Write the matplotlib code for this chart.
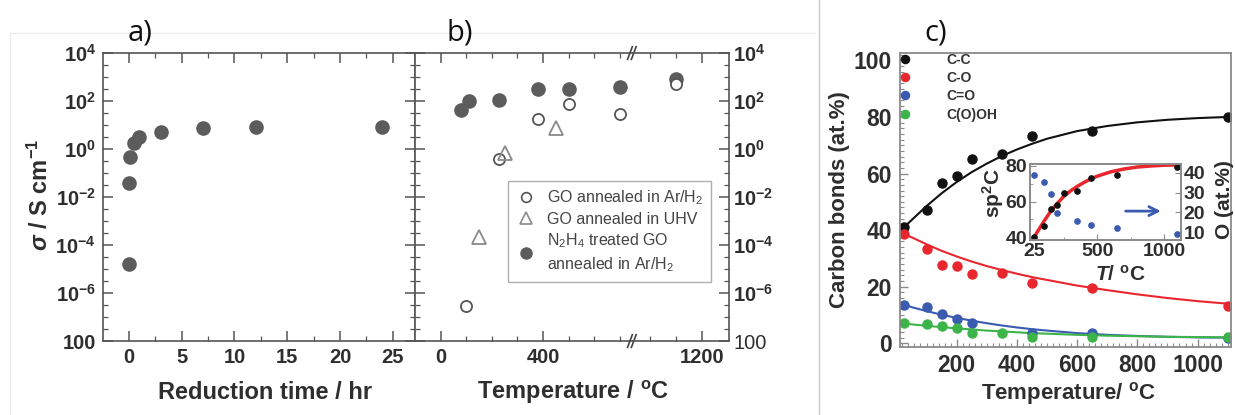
import matplotlib
matplotlib.use("Agg")
import matplotlib.pyplot as plt
from matplotlib.ticker import FixedLocator, MultipleLocator, NullFormatter, FixedFormatter
from matplotlib.lines import Line2D

# ---------------- data ----------------
# a) conductivity vs reduction time
time_hr = [0, 0.05, 0.1, 0.5, 1, 3, 7, 12, 24]
sigma_time = [1.6e-5, 0.04, 0.48, 1.7, 3.2, 5.0, 7.7, 8.0, 8.0]

# b) conductivity vs annealing temperature
temp_ar = [100, 230, 380, 500, 700, 1100]
sigma_ar = [3e-7, 0.38, 18, 73, 29, 500]
temp_uhv = [150, 250, 450]
sigma_uhv = [2.2e-4, 0.66, 7.2]
temp_n2h4 = [80, 110, 230, 380, 500, 700, 1100]
sigma_n2h4 = [42, 100, 110, 310, 310, 370, 850]

decades = [-8, -6, -4, -2, 0, 2, 4]
decade_labels = ["100", r"$\mathbf{10^{-6}}$", r"$\mathbf{10^{-4}}$", r"$\mathbf{10^{-2}}$",
                 r"$\mathbf{10^{0}}$", r"$\mathbf{10^{2}}$", r"$\mathbf{10^{4}}$"]

# c) carbon bonds vs temperature
temps_c = [25, 100, 150, 200, 250, 350, 450, 650, 1100]
cc = [41, 47, 56.5, 59, 65, 67, 73.3, 75, 80]
co = [38.6, 33.5, 27.7, 27.4, 24.4, 24.8, 21.3, 19.6, 13.3]
temps_cdo = [25, 100, 150, 200, 250, 450, 650, 1100]
cdo = [13.5, 12.9, 10.4, 8.7, 7.1, 3.6, 3.5, 2.0]
cooh = [7.0, 6.8, 6.0, 5.4, 3.7, 3.5, 2.4, 2.4, 2.1]

# fitted curves
fit_T = [25, 50, 100, 150, 200, 250, 300, 350, 400, 450, 500, 600, 700, 800, 900, 1000, 1100]
fit_cc = [41, 43.5, 48.5, 53, 57, 60.5, 63.5, 66.2, 68.5, 70.5, 72.3, 75, 76.8, 78.1, 79, 79.6, 80]
fit_co = [38.6, 37.5, 35, 32.7, 30.7, 28.9, 27.3, 25.9, 24.6, 23.4, 22.4, 20.4, 18.8, 17.3, 16.0, 14.9, 14.0]
fit_cdo = [13.8, 12.8, 11.4, 10.1, 9.0, 8.0, 7.1, 6.3, 5.6, 5.0, 4.5, 3.6, 3.0, 2.6, 2.3, 2.1, 2.0]
fit_cooh = [7.0, 6.7, 6.2, 5.7, 5.3, 4.9, 4.5, 4.2, 3.9, 3.6, 3.4, 3.0, 2.7, 2.5, 2.3, 2.2, 2.1]

# inset: sp2 carbon and oxygen content
sp2 = [40.0, 46.4, 56.0, 58.3, 64.7, 66.1, 73.0, 74.6, 79.6]
fit_sp2 = [40, 43, 49, 54.5, 59, 63, 66, 68.5, 70.7, 72.6, 74.2, 76.6, 78.2, 79.3, 79.9, 80.3, 80.5]
temps_o = [25, 100, 150, 200, 350, 450, 650, 1100]
oxygen = [39.0, 35.6, 29.4, 19.6, 15.4, 13.6, 12.1, 9.1]

# ---------------- style ----------------
plt.rcParams["font.family"] = ["Liberation Sans", "DejaVu Sans"]
plt.rcParams["mathtext.fontset"] = "custom"
plt.rcParams["mathtext.rm"] = "Liberation Sans"
plt.rcParams["mathtext.bf"] = "Liberation Sans:bold"
plt.rcParams["mathtext.it"] = "Liberation Sans:italic:bold"

TXT = "#2e2e2e"
GRAY = "#5c5c5c"
W, H = 1235, 415


def box(x0, y0, x1, y1):
    return [x0 / W, 1 - y1 / H, (x1 - x0) / W, (y1 - y0) / H]


fig = plt.figure(figsize=(12.35, 4.15), dpi=100)

ax_a = fig.add_axes(box(103, 53, 415, 341))
ax_b1 = fig.add_axes(box(415, 53, 633.3, 341))
ax_b2 = fig.add_axes(box(633.3, 53, 729, 341))
ax_c = fig.add_axes(box(900, 53.3, 1231, 346.7))
ax_in = fig.add_axes(box(1030, 164, 1181, 240))

minor_log = [10.0 ** (k / 2) for k in range(-16, 9) if k % 4 != 0]

for ax in (ax_a, ax_b1, ax_b2):
    ax.set_yscale("log")
    ax.set_ylim(1e-8, 1e4)
    ax.yaxis.set_major_locator(FixedLocator([10.0 ** d for d in decades]))
    ax.yaxis.set_major_formatter(FixedFormatter(decade_labels))
    ax.yaxis.set_minor_locator(FixedLocator(minor_log))
    ax.yaxis.set_minor_formatter(NullFormatter())
    for s in ax.spines.values():
        s.set_color("#555555")
        s.set_linewidth(1.2)
    ax.tick_params(which="both", direction="in", colors="#555555", labelcolor=TXT,
                   labelsize=14.5, top=True, right=True)
    ax.tick_params(which="major", length=7, width=1.1)
    ax.tick_params(which="minor", length=3.5, width=0.9)
    for lab in ax.get_xticklabels() + ax.get_yticklabels():
        lab.set_fontweight("bold")

# ---- panel a ----
ax_a.plot(time_hr, sigma_time, "o", color=GRAY, ms=9.5, mec=GRAY)
ax_a.set_xlim(-2.45, 27.1)
ax_a.xaxis.set_major_locator(MultipleLocator(5))
ax_a.xaxis.set_minor_locator(MultipleLocator(2.5))
ax_a.tick_params(axis="y", labelleft=True, labelright=False, pad=5)
ax_a.tick_params(axis="x", pad=5)

# ---- panel b (broken x axis) ----
for ax in (ax_b1, ax_b2):
    ax.plot(temp_n2h4, sigma_n2h4, "o", color=GRAY, ms=9.5, mec=GRAY)
    ax.plot(temp_ar, sigma_ar, "o", mfc="white", mec="#555555", ms=8, mew=1.3)
    ax.plot(temp_uhv, sigma_uhv, "^", mfc="none", mec="#8a8a8a", ms=9.5, mew=1.3)
    ax.tick_params(axis="x", pad=5)

ax_b1.set_xlim(-100, 753)
ax_b1.xaxis.set_major_locator(FixedLocator([0, 400]))
ax_b1.xaxis.set_minor_locator(FixedLocator([100, 200, 300, 500, 600, 700]))
ax_b1.spines["right"].set_visible(False)
ax_b1.tick_params(axis="y", which="both", left=True, right=False, labelleft=False, labelright=False)

ax_b2.set_xlim(934, 1306)
ax_b2.xaxis.set_major_locator(FixedLocator([1200]))
ax_b2.xaxis.set_minor_locator(FixedLocator([1000, 1100]))
ax_b2.spines["left"].set_visible(False)
ax_b2.patch.set_visible(False)
ax_b2.tick_params(axis="y", which="both", left=False, right=True, labelleft=False,
                  labelright=True, pad=3)

# break marks
for yb in (0, 1):
    for dx in (-0.035, 0.005):
        ax_b2.plot([dx - 0.025, dx + 0.025], [yb - 0.022, yb + 0.022], transform=ax_b2.transAxes,
                   color="#444444", lw=1.2, clip_on=False)

handles = [
    Line2D([], [], ls="none", marker="o", mfc="white", mec="#555555", ms=7, mew=1.2),
    Line2D([], [], ls="none", marker="^", mfc="none", mec="#8a8a8a", ms=8, mew=1.2),
    Line2D([], [], ls="none", marker="o", color=GRAY, ms=8),
]
labels = [r"GO annealed in Ar/H$_2$", "GO annealed in UHV",
          "N$_2$H$_4$ treated GO\nannealed in Ar/H$_2$"]
leg = fig.legend(handles, labels, loc="upper left", bbox_to_anchor=(508 / W, 1 - 181 / H),
                 fontsize=11.5, frameon=True, fancybox=False, edgecolor="#9a9a9a",
                 borderpad=0.45, handlelength=1.4, handletextpad=0.6, labelspacing=0.3,
                 borderaxespad=0)
leg.get_frame().set_linewidth(1.0)
for t in leg.get_texts():
    t.set_color("#444444")
    t.set_linespacing(1.4)

# ---- panel c ----
cols = {"cc": "#111111", "co": "#e8262d", "cdo": "#3a5bb0", "cooh": "#3cb44a"}
ax_c.plot(fit_T, fit_cc, "-", color=cols["cc"], lw=1.5)
ax_c.plot(fit_T, fit_co, "-", color=cols["co"], lw=1.5)
ax_c.plot(fit_T, fit_cdo, "-", color=cols["cdo"], lw=1.5)
ax_c.plot(fit_T, fit_cooh, "-", color=cols["cooh"], lw=1.5)
p1, = ax_c.plot(temps_c, cc, "o", color=cols["cc"], ms=6.5)
p2, = ax_c.plot(temps_c, co, "o", color=cols["co"], ms=6.5)
p3, = ax_c.plot(temps_cdo, cdo, "o", color=cols["cdo"], ms=6.5)
p4, = ax_c.plot(temps_c, cooh, "o", color=cols["cooh"], ms=6.5)

ax_c.set_xlim(12, 1111)
ax_c.set_ylim(-1.2, 102.5)
ax_c.xaxis.set_major_locator(FixedLocator([200, 400, 600, 800, 1000]))
ax_c.xaxis.set_minor_locator(MultipleLocator(20))
ax_c.yaxis.set_major_locator(MultipleLocator(20))
ax_c.yaxis.set_minor_locator(MultipleLocator(2))
for s in ax_c.spines.values():
    s.set_color("#8a8a8a")
    s.set_linewidth(1.3)
ax_c.tick_params(which="both", direction="in", colors="#8a8a8a", labelcolor=TXT, labelsize=16.5)
ax_c.tick_params(which="major", length=6, width=1.0)
ax_c.tick_params(which="minor", length=3, width=0.8)
ax_c.tick_params(axis="y", pad=6)
ax_c.tick_params(axis="x", pad=5)
for lab in ax_c.get_xticklabels() + ax_c.get_yticklabels():
    lab.set_fontweight("bold")

lc = ax_c.legend([p1, p2, p3, p4], ["C-C", "C-O", "C=O", "C(O)OH"], loc="upper left",
                 bbox_to_anchor=(895 / W, 1 - 53 / H), bbox_transform=fig.transFigure,
                 frameon=False, fontsize=10, handlelength=1.5, handletextpad=2.2,
                 labelspacing=0.3, borderpad=0, borderaxespad=0, markerscale=0.9)
for t in lc.get_texts():
    t.set_fontweight("bold")
    t.set_color("#333333")

# ---- inset ----
ax_in.plot(fit_T, fit_sp2, "-", color="#e8262d", lw=2.5)
ax_in.plot(temps_c, sp2, "o", color="#111111", ms=3.8)
ax_in.set_xlim(-5, 1128)
ax_in.set_ylim(38.5, 81)
ax_in.xaxis.set_major_locator(FixedLocator([25, 500, 1000]))
ax_in.xaxis.set_minor_locator(FixedLocator([250, 750]))
ax_in.yaxis.set_major_locator(FixedLocator([40, 60, 80]))
ax_in.yaxis.set_minor_locator(FixedLocator([50, 70]))
ax_in2 = ax_in.twinx()
ax_in2.plot(temps_o, oxygen, "o", color="#3a5bb0", ms=3.8)
ax_in2.set_ylim(6, 44.5)
ax_in2.yaxis.set_major_locator(FixedLocator([10, 20, 30, 40]))
for ax in (ax_in, ax_in2):
    for s in ax.spines.values():
        s.set_color("#8a8a8a")
        s.set_linewidth(1.2)
    ax.tick_params(which="both", direction="in", colors="#8a8a8a", labelcolor=TXT,
                   labelsize=14, pad=2)
    ax.tick_params(which="major", length=4)
    ax.tick_params(which="minor", length=2.5)
    for lab in ax.get_xticklabels() + ax.get_yticklabels():
        lab.set_fontweight("bold")
ax_in.annotate("", xy=(0.885, 0.38), xytext=(0.615, 0.38), xycoords="axes fraction",
               arrowprops=dict(arrowstyle="->", color="#3a5bb0", lw=2, mutation_scale=16))

# ---------------- texts ----------------
fig.text(265 / W, 1 - 392 / H, "Reduction time / hr", ha="center", va="center",
         fontsize=17, fontweight="bold", color=TXT)
fig.text(40 / W, 1 - 195 / H, r"$\sigma$ / S cm$^{\mathbf{-1}}$", ha="center", va="center",
         rotation=90, fontsize=17, fontweight="bold", color=TXT)
fig.text(573 / W, 1 - 392 / H, r"Temperature / $^{\mathbf{o}}$C", ha="center", va="center",
         fontsize=17, fontweight="bold", color=TXT)
fig.text(840 / W, 1 - 200 / H, "Carbon bonds (at.%)", ha="center", va="center",
         rotation=90, fontsize=16, fontweight="bold", color=TXT)
fig.text(1068 / W, 1 - 393 / H, r"Temperature/ $^{\mathbf{o}}$C", ha="center", va="center",
         fontsize=16, fontweight="bold", color=TXT)
fig.text(993 / W, 1 - 193 / H, r"sp$^{\mathbf{2}}$C", ha="center", va="center",
         rotation=90, fontsize=15, fontweight="bold", color=TXT)
fig.text(1225 / W, 1 - 200 / H, "O (at.%)", ha="center", va="center",
         rotation=90, fontsize=15, fontweight="bold", color=TXT)
fig.text(1120 / W, 1 - 275 / H, r"$T$/ $^{\mathbf{o}}$C", ha="center", va="center",
         fontsize=15, fontweight="bold", color=TXT)

for x, s in ((140, "a)"), (460, "b)"), (936, "c)")):
    fig.text(x / W, 1 - 33 / H, s, ha="center", va="center", fontsize=21,
             family="Open Sans", color="#111111")

# faint frame lines of the original figure
fig.add_artist(Line2D([819 / W, 819 / W], [0, 1], color="#c8c8c8", lw=1.0))
fig.add_artist(Line2D([10 / W, 10 / W], [0, 1 - 33 / H], color="#ececec", lw=1.0))
fig.add_artist(Line2D([10 / W, 815 / W], [1 - 33 / H, 1 - 33 / H], color="#ececec", lw=1.0))

fig.savefig("out.png", dpi=100)
